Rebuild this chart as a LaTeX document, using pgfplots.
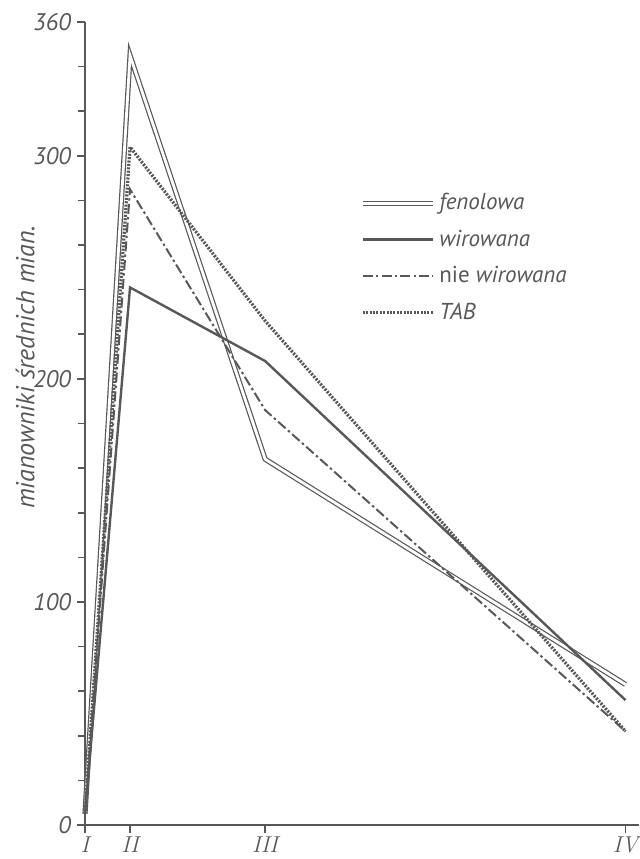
\documentclass[border=0pt]{standalone}
\usepackage{fontspec}
\setmainfont{PT Sans}
\newfontfamily\lmr{Latin Modern Roman}
\usepackage{pgfplots}
\pgfplotsset{compat=1.18}
\definecolor{ink}{RGB}{88,88,88}
\begin{document}
\begin{tikzpicture}
\useasboundingbox (-42.5pt,-17pt) rectangle (277pt,412.5pt);
\begin{axis}[
  at={(0,0)}, anchor=south west,
  scale only axis, width=277pt, height=401.5pt,
  xmin=0, xmax=12.3, ymin=0, ymax=360,
  axis x line=bottom, axis y line=left,
  axis line style={ink, line width=1pt, -},
  ytick align=outside, xtick align=outside,
  major tick length=4pt,
  ytick style={draw=ink, line width=0.8pt},
  xtick style={draw=ink, line width=0.8pt},
  xtick={0,1,4,12},
  xticklabels={{\lmr\itshape I},{\lmr\itshape II},{\lmr\itshape III},{\lmr\itshape IV}},
  xticklabel style={font=\fontsize{11.5}{13}\selectfont, text=ink, yshift=1.5pt},
  ytick={0,100,200,300,360},
  yticklabel style={font=\fontsize{12}{14}\selectfont\itshape, text=ink, xshift=0.5pt},
  /pgf/number format/assume math mode=true,
  ylabel={mianowniki średnich mian.},
  ylabel style={at={(axis description cs:-0.108,0.57)}, anchor=center, font=\fontsize{13}{15}\selectfont\itshape, text=ink},
  legend style={at={(axis description cs:0.496,0.792)}, anchor=north west, draw=none, fill=none,
    font=\fontsize{11.5}{13}\selectfont\itshape, text=ink, row sep=4.6pt, inner sep=0pt},
  legend cell align=left,
  legend image code/.code={\draw[#1] (0pt,0pt) -- (35pt,0pt);},
  clip=false,
]
\pgfplotsinvokeforeach{0,20,40,60,80,100,120,140,160,180,200,220,240,260,280,300,320,340,360}{
  \draw[ink, line width=0.8pt] (axis cs:0,#1) -- ++(-3.5pt,0pt);
}
\pgfplotsinvokeforeach{1,4,12}{
  \draw[ink, line width=0.8pt] (axis cs:#1,0) -- ++(0pt,-3.5pt);
}
\addplot[ink, line width=0.6pt, double=white, double distance=1.4pt] coordinates {(0,5) (1,345) (4,164) (12,63)};
\addlegendentry{fenolowa}
\addplot[ink, line width=1.2pt] coordinates {(0,5) (1,241) (4,208) (12,56)};
\addlegendentry{wirowana}
\addplot[ink, line width=1pt, dash pattern=on 5pt off 1.6pt on 1.2pt off 1.6pt] coordinates {(0,5) (1,285) (4,186) (12,42)};
\addlegendentry{\upshape nie \itshape wirowana}
\addplot[ink, line width=1.6pt, dash pattern=on 1pt off 0.7pt] coordinates {(0,5) (1,304) (4,226) (12,42)};
\addlegendentry{TAB}
\end{axis}
\end{tikzpicture}
\end{document}
